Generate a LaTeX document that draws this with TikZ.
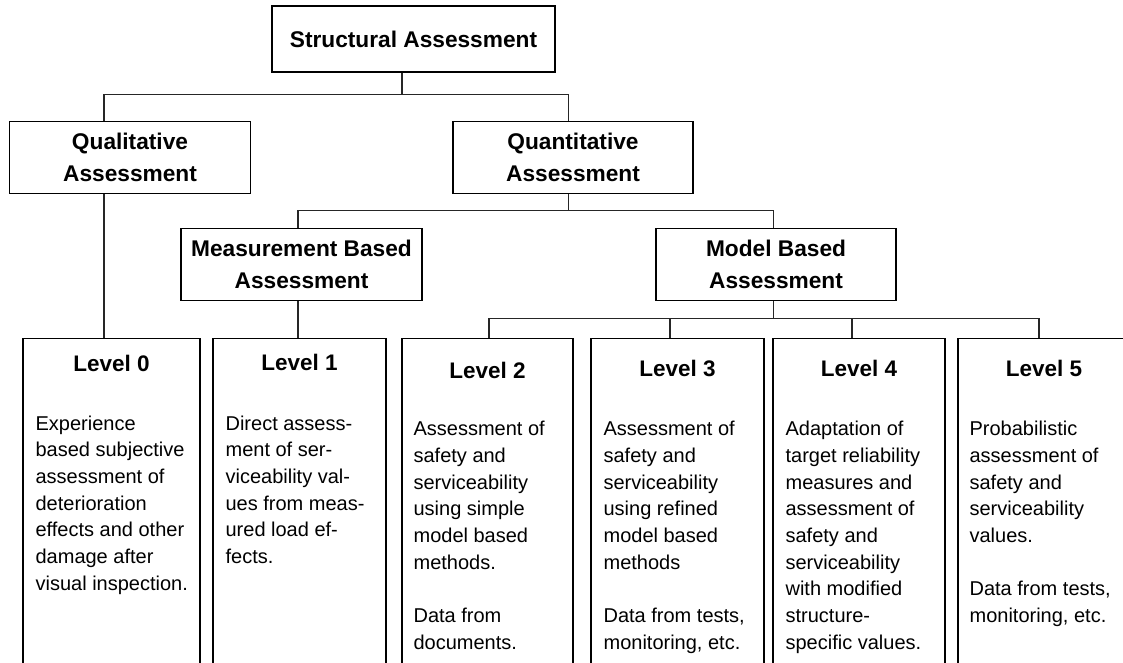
\documentclass[tikz,border=0pt]{standalone}
\usepackage{fontspec}
\setmainfont{Liberation Sans}
\usetikzlibrary{positioning}

\tikzset{
	headbox/.style={draw=black, line width=1.2pt, inner sep=0pt, align=center, minimum width=240pt, minimum height=72pt, font=\fontsize{22.7}{32}\selectfont\bfseries},
	lvbox/.style={draw=black, line width=1.2pt, inner sep=0pt, anchor=north, minimum height=400pt},
	lvtitle/.style={inner sep=0pt, font=\fontsize{22.5}{27}\selectfont\bfseries},
	lvbody/.style={inner sep=0pt, align=left, font=\fontsize{20}{26.7}\selectfont, execute at begin node=\strut},
	link/.style={draw=black!85, line width=1.2pt},
}

\begin{document}
\begin{tikzpicture}[x=1pt, y=1pt]
	\useasboundingbox (0,0) rectangle (1123,-663);
	\clip (0,0) rectangle (1123,-663);

	\node[headbox, minimum width=283pt, minimum height=66pt] (struct) at (413.5,-39) {Structural Assessment};
	\node[headbox, minimum width=240.5pt] (qual)  at (130,-157.5) {Qualitative\\Assessment};
	\node[headbox] (quant) at (573,-157.5) {Quantitative\\Assessment};
	\node[headbox, minimum width=241pt] (meas)  at (301.5,-264.7) {Measurement Based\\Assessment};
	\node[headbox] (model) at (776,-264.7) {Model Based\\Assessment};

	\foreach \n/\xl/\xr in {0/23/200, 1/213/386, 2/402/573, 3/591/764, 4/773/945, 5/958/1130}
		\node[lvbox, minimum width={(\xr-\xl)*1pt}] (lv\n) at ({(\xl+\xr)/2},-338) {};

	\foreach \n/\dy in {0/17, 1/16, 2/24, 3/22, 4/22, 5/22}
		\node[lvtitle, below=\dy pt of lv\n.north] (title\n) {Level \n};

	\node[lvbody, below right=77.5pt and 13pt of lv0.north west] (body0) {Experience\\based subjective\\assessment of\\deterioration\\effects and other\\damage after\\visual inspection.};
	\node[lvbody, below right=77.5pt and 13pt of lv1.north west] (body1) {Direct assess-\\ment of ser-\\viceability val-\\ues from meas-\\ured load ef-\\fects.};
	\node[lvbody, below right=83pt and 12pt of lv2.north west] (body2) {Assessment of\\safety and\\serviceability\\using simple\\model based\\methods.\\[26.7pt]Data from\\documents.};
	\node[lvbody, below right=83pt and 13pt of lv3.north west] (body3) {Assessment of\\safety and\\serviceability\\using refined\\model based\\methods\\[26.7pt]Data from tests,\\monitoring, etc.};
	\node[lvbody, below right=83pt and 13pt of lv4.north west] (body4) {Adaptation of\\target reliability\\measures and\\assessment of\\safety and\\serviceability\\with modified\\structure-\\specific values.};
	\node[lvbody, below right=83pt and 12pt of lv5.north west] (body5) {Probabilistic\\assessment of\\safety and\\serviceability\\values.\\[26.7pt]Data from tests,\\monitoring, etc.};

	\draw[link] ([xshift=-11.5pt]struct.south) -- ++(0,-22) -| ([xshift=-26pt]qual.north);
	\draw[link] ([xshift=-11.5pt]struct.south) -- ++(0,-22) -| ([xshift=-4.3pt]quant.north);
	\draw[link] ([xshift=-4.3pt]quant.south) -- ++(0,-16.7) -| ([xshift=-3.5pt]meas.north);
	\draw[link] ([xshift=-4.3pt]quant.south) -- ++(0,-16.7) -| ([xshift=-2.3pt]model.north);
	\draw[link] ([xshift=-26pt]qual.south) -- ([xshift=-26pt]qual.south |- lv0.north);
	\draw[link] ([xshift=-3.5pt]meas.south) -- ([xshift=-3.5pt]meas.south |- lv1.north);
	\foreach \n/\dx in {2/1.5, 3/-7.5, 4/-7, 5/-5}
		\draw[link] ([xshift=-2.3pt]model.south) -- ++(0,-17.3) -| ([xshift=\dx pt]lv\n.north);
\end{tikzpicture}
\end{document}
